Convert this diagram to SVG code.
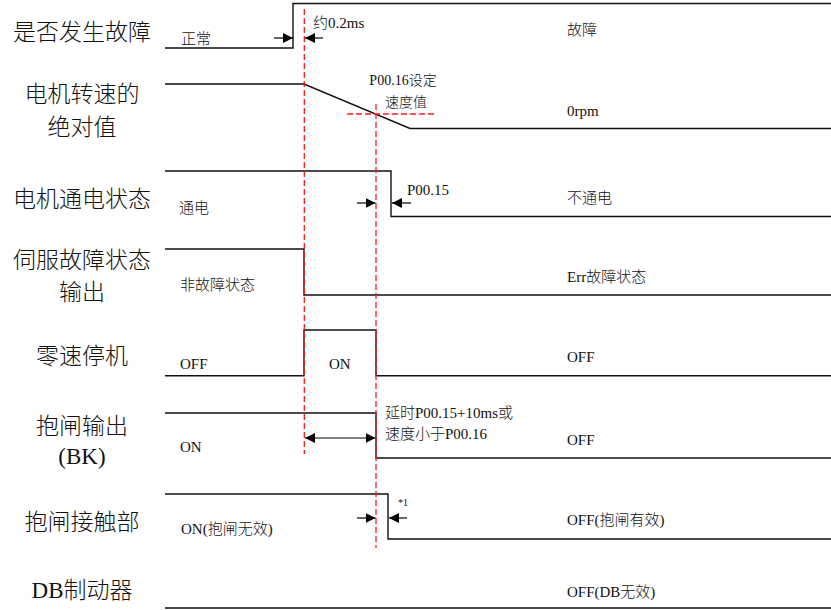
<svg xmlns="http://www.w3.org/2000/svg" width="831" height="610" viewBox="0 0 831 610">
<defs>
<marker id="ah" viewBox="0 0 10 10" refX="10" refY="5" markerWidth="10" markerHeight="10" markerUnits="userSpaceOnUse" orient="auto-start-reverse">
<path d="M0,0 L10,5 L0,10 Z" fill="#000"/>
</marker>
</defs>
<style>
text{font-family:"Liberation Serif","Noto Sans CJK SC",serif;fill:#111;font-weight:300}
.lbl{font-size:23px;text-anchor:middle}
.s{font-size:15px}
.t{font-size:14px}
.sig{fill:none;stroke:#111;stroke-width:1.4}
.red{fill:none;stroke:#ff1a1a;stroke-width:1.3;stroke-dasharray:6 3}
.arr{fill:none;stroke:#000;stroke-width:1.2;marker-end:url(#ah)}
</style>
<rect width="831" height="610" fill="#fff"/>

<g id="fault">
<text class="lbl" x="82" y="40">是否发生故障</text>
<path class="sig" d="M165,48 H293 V3.5 H831"/>
<text class="s" x="181" y="44">正常</text>
<text class="s" x="313" y="28">约0.2ms</text>
<text class="s" x="567" y="35">故障</text>
</g>

<g id="speed">
<text class="lbl" x="82" y="102">电机转速的</text>
<text class="lbl" x="82" y="135">绝对值</text>
<path class="sig" d="M165,84 H304 L410,128.5 H831"/>
<text class="t" x="403" y="85" text-anchor="middle">P00.16设定</text>
<text class="t" x="406" y="107" text-anchor="middle">速度值</text>
<text class="s" x="567" y="116">0rpm</text>
</g>

<g id="power">
<text class="lbl" x="82" y="207">电机通电状态</text>
<path class="sig" d="M165,171 H391 V216.5 H831"/>
<text class="s" x="179" y="213">通电</text>
<text class="s" x="407" y="195">P00.15</text>
<text class="s" x="567" y="203">不通电</text>
</g>

<g id="servo">
<text class="lbl" x="82" y="268">伺服故障状态</text>
<text class="lbl" x="82" y="300">输出</text>
<path class="sig" d="M165,249 H304 V295 H831"/>
<text class="s" x="180" y="290">非故障状态</text>
<text class="s" x="567" y="282">Err故障状态</text>
</g>

<g id="zerospeed">
<text class="lbl" x="82" y="364">零速停机</text>
<path class="sig" d="M165,375.7 H304 V330 H376 V375.7 H831"/>
<text class="s" x="180" y="369">OFF</text>
<text class="s" x="329" y="369">ON</text>
<text class="s" x="567" y="362">OFF</text>
</g>

<g id="bk">
<text class="lbl" x="82" y="434">抱闸输出</text>
<text class="lbl" x="82" y="464">(BK)</text>
<path class="sig" d="M165,413 H376 V458 H831"/>
<text class="s" x="180" y="452">ON</text>
<text class="s" x="385" y="418">延时P00.15+10ms或</text>
<text class="s" x="385" y="439">速度小于P00.16</text>
<text class="s" x="567" y="445">OFF</text>
</g>

<g id="contact">
<text class="lbl" x="82" y="530">抱闸接触部</text>
<path class="sig" d="M165,494 H388 V539 H831"/>
<text class="s" x="181" y="534">ON(抱闸无效)</text>
<text x="398" y="506" font-size="10">*1</text>
<text class="s" x="567" y="525">OFF(抱闸有效)</text>
</g>

<g id="db">
<text class="lbl" x="82" y="598">DB制动器</text>
<path class="sig" d="M165,608 H831"/>
<text class="s" x="567" y="597">OFF(DB无效)</text>
</g>

<g id="connectors">
<path class="red" d="M304.3,9 V454"/>
<path class="red" d="M376,104 V548"/>
<path class="red" d="M347,114 H437"/>
<path class="arr" d="M274,38 H293"/>
<path class="arr" d="M323,38 H305"/>
<path class="arr" d="M357,203 H375.5"/>
<path class="arr" d="M411,203 H392"/>
<path class="arr" d="M305,438 H375.5" style="marker-start:url(#ah)"/>
<path class="arr" d="M357,518 H375.5"/>
<path class="arr" d="M407,518 H389"/>
</g>
</svg>
